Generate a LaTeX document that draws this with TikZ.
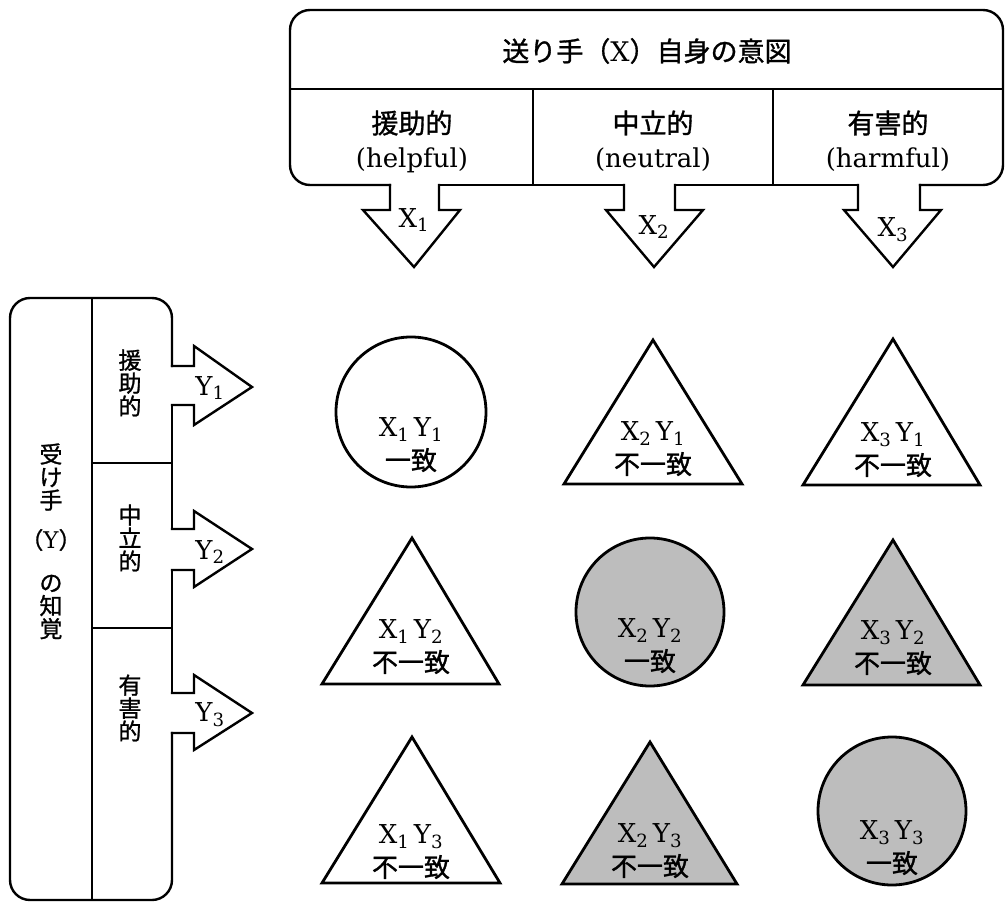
\documentclass[tikz,border=0pt]{standalone}
\usepackage{fontspec}
\setmainfont{DejaVu Serif}
\newfontfamily\jp{Noto Sans CJK JP}[FakeBold=1.2]
\definecolor{shade}{gray}{0.74}
\begin{document}
\begin{tikzpicture}[x=1pt,y=-1pt,line join=miter,
  outl/.style={line width=2.4pt,line cap=rect},
  shp/.style={line width=2.8pt},
  shd/.style={fill=shade},
  jtop/.style={font=\jp\fontsize{27}{30}\selectfont,inner sep=0pt},
  ltop/.style={font=\fontsize{26}{30}\selectfont,inner sep=0pt},
  jleft/.style={font=\jp\fontsize{23}{23}\selectfont,align=center,inner sep=0pt},
  lab/.style={font=\fontsize{26}{30}\selectfont,inner sep=0pt},
  cell/.style={font=\fontsize{26}{33}\selectfont,align=center,inner sep=0pt}]
\useasboundingbox (0,0) rectangle (1005,907);

% ---------- top box (sender) ----------
\draw[outl,rounded corners=20pt] (390,185) -- (290,185) -- (290,10) -- (1003,10) -- (1003,185) -- (920,185);
\draw[outl] (858,185) -- (675,185);
\draw[outl] (624,185) -- (439,185);
\draw[outl] (290,89) -- (1003,89);
\draw[outl] (533,89) -- (533,185);
\draw[outl] (773,89) -- (773,185);
% down arrows
\draw[outl] (390,185) -- (390,210) -- (363,210) -- (414,267) -- (460,210) -- (439,210) -- (439,185);
\draw[outl] (624,185) -- (624,210) -- (606,210) -- (654,267) -- (703,210) -- (675,210) -- (675,185);
\draw[outl] (858,185) -- (858,210) -- (844,210) -- (893,267) -- (941,210) -- (920,210) -- (920,185);

\node[jtop] (title) at (647,51) {送り手（\rmfamily X\jp ）自身の意図};
\node[jtop] (h1) at (412,123) {援助的};
\node[ltop] (h1e) at (412,160) {(helpful)};
\node[jtop] (h2) at (653,123) {中立的};
\node[ltop] (h2e) at (653,160) {(neutral)};
\node[jtop] (h3) at (888,123) {有害的};
\node[ltop] (h3e) at (888,160) {(harmful)};
\node[lab] (x1) at (414,220) {X\textsubscript{1}};
\node[lab] (x2) at (654,227) {X\textsubscript{2}};
\node[lab] (x3) at (893,230) {X\textsubscript{3}};

% ---------- left box (receiver) ----------
\draw[outl,rounded corners=20pt] (172,366) -- (172,298) -- (10,298) -- (10,900) -- (172,900) -- (172,733);
\draw[outl] (172,405) -- (172,529);
\draw[outl] (172,570) -- (172,693);
\draw[outl] (92,298) -- (92,900);
\draw[outl] (92,463) -- (172,463);
\draw[outl] (92,628) -- (172,628);
% right arrows
\draw[outl] (172,366) -- (194,366) -- (194,346) -- (252,387) -- (194,425) -- (194,405) -- (172,405);
\draw[outl] (172,529) -- (194,529) -- (194,511) -- (252,549) -- (194,587) -- (194,570) -- (172,570);
\draw[outl] (172,693) -- (194,693) -- (194,675) -- (252,713) -- (194,750) -- (194,733) -- (172,733);

\node[jleft] (r1) at (51,477) {受\\け\\手};
\node[jleft] (r2) at (51,540) {（\rmfamily Y\jp ）};
\node[jleft] (r3) at (51,607) {の\\知\\覚};
\node[jleft] (v1) at (130,383) {援\\助\\的};
\node[jleft] (v2) at (130,538) {中\\立\\的};
\node[jleft] (v3) at (130,708) {有\\害\\的};
\node[lab] (y1) at (210,388) {Y\textsubscript{1}};
\node[lab] (y2) at (210,552) {Y\textsubscript{2}};
\node[lab] (y3) at (210,715) {Y\textsubscript{3}};

% ---------- matrix of shapes ----------
% row 1
\draw[shp] (411,412) circle[radius=75];
\node[cell] (c11) at (411,445) {X\textsubscript{1}\,Y\textsubscript{1}\\{\jp 一致}};
\draw[shp] (653,340) -- (742,484) -- (564,484) -- cycle;
\node[cell] (c21) at (653,449) {X\textsubscript{2}\,Y\textsubscript{1}\\{\jp 不一致}};
\draw[shp] (893,339) -- (980,485) -- (803,485) -- cycle;
\node[cell] (c31) at (893,450) {X\textsubscript{3}\,Y\textsubscript{1}\\{\jp 不一致}};
% row 2
\draw[shp] (412,538) -- (499,684) -- (322,684) -- cycle;
\node[cell] (c12) at (411,647) {X\textsubscript{1}\,Y\textsubscript{2}\\{\jp 不一致}};
\draw[shp,shd] (650,612) circle[radius=74];
\node[cell] (c22) at (650,646) {X\textsubscript{2}\,Y\textsubscript{2}\\{\jp 一致}};
\draw[shp,shd] (893,540) -- (980,685) -- (803,685) -- cycle;
\node[cell] (c32) at (893,648) {X\textsubscript{3}\,Y\textsubscript{2}\\{\jp 不一致}};
% row 3
\draw[shp] (412,737) -- (500,883) -- (322,883) -- cycle;
\node[cell] (c13) at (411,852) {X\textsubscript{1}\,Y\textsubscript{3}\\{\jp 不一致}};
\draw[shp,shd] (650,742) -- (737,884) -- (562,884) -- cycle;
\node[cell] (c23) at (650,851) {X\textsubscript{2}\,Y\textsubscript{3}\\{\jp 不一致}};
\draw[shp,shd] (892,811) circle[radius=74];
\node[cell] (c33) at (892,848) {X\textsubscript{3}\,Y\textsubscript{3}\\{\jp 一致}};
\end{tikzpicture}
\end{document}
